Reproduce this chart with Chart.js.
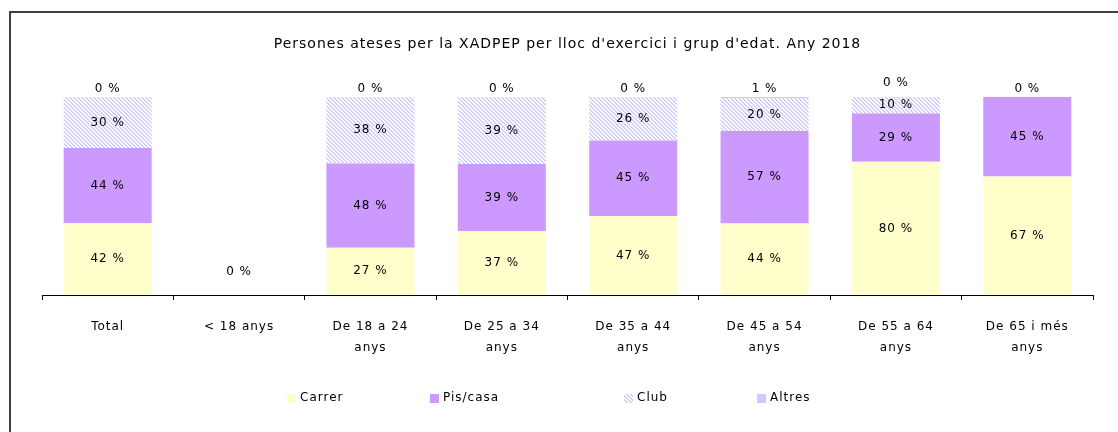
<!DOCTYPE html>
<html>
<head>
<meta charset="utf-8">
<script src="https://cdn.jsdelivr.net/npm/chart.js@4.4.1/dist/chart.umd.min.js"></script>
<style>
html,body{margin:0;padding:0;background:#fff;}
#wrap{position:relative;width:1118px;height:432px;}
</style>
</head>
<body>
<div id="wrap"><canvas id="c" width="1118" height="432"></canvas></div>
<script>
const categories = [["Total"], ["< 18 anys"], ["De 18 a 24", "anys"], ["De 25 a 34", "anys"], ["De 35 a 44", "anys"], ["De 45 a 54", "anys"], ["De 55 a 64", "anys"], ["De 65 i més", "anys"]];
const carrer  = [42, 0, 27, 37, 47, 44, 80, 67];
const pisCasa = [44, 0, 48, 39, 45, 57, 29, 45];
const club    = [30, 0, 38, 39, 26, 20, 10, 0];
const altres  = [0, 0, 0, 0, 0, 1, 0, 0];
const seriesNames = ["Carrer", "Pis/casa", "Club", "Altres"];
const titleText = "Persones ateses per la XADPEP per lloc d'exercici i grup d'edat. Any 2018";

const raw = [carrer, pisCasa, club, altres];
const totals = categories.map((_, i) => raw.reduce((s, a) => s + a[i], 0));
const norm = raw.map(a => a.map((v, i) => totals[i] ? v / totals[i] * 100 : 0));

function hatch() {
  const p = document.createElement('canvas');
  p.width = 4; p.height = 4;
  const g = p.getContext('2d');
  g.fillStyle = '#ffffff'; g.fillRect(0, 0, 4, 4);
  g.fillStyle = '#d0d0fa';
  for (let i = 0; i < 4; i++) { g.fillRect(i, i, 1, 1); g.fillRect((i + 1) % 4, i, 1, 1); }
  return g.createPattern(p, 'repeat');
}
const clubPattern = hatch();
const colors = ['#ffffcc', '#cc99ff', clubPattern, '#ccccff'];

const FONT = '"DejaVu Sans", Verdana, sans-serif';

const spacingPlugin = {
  id: 'spacing',
  beforeUpdate(chart) { chart.ctx.letterSpacing = '1px'; },
  beforeLayout(chart) { chart.ctx.letterSpacing = '1px'; },
  beforeDraw(chart) { chart.ctx.letterSpacing = '1px'; }
};

const labelPlugin = {
  id: 'labels',
  afterDatasetsDraw(chart) {
    const ctx = chart.ctx;
    ctx.save();
    ctx.letterSpacing = '1px';
    ctx.font = '12px ' + FONT;
    ctx.fillStyle = '#000';
    ctx.textAlign = 'center';
    ctx.textBaseline = 'middle';
    const xs = chart.scales.x, ys = chart.scales.y;
    categories.forEach((_, i) => {
      if (!totals[i]) {
        ctx.fillText('0 %', xs.getPixelForValue(i), ys.getPixelForValue(0) - 23);
        return;
      }
      let clubY = null;
      for (let d = 0; d < 3; d++) {
        const v = raw[d][i];
        if (d === 2 && v === 0) continue;
        const el = chart.getDatasetMeta(d).data[i];
        const y = (el.y + el.base) / 2;
        if (d === 2) clubY = y;
        ctx.fillText(v + ' %', el.x, y);
      }
      const el = chart.getDatasetMeta(3).data[i];
      let y = Math.min(el.y, el.base) - 8;
      if (clubY !== null) y = Math.min(y, clubY - 22);
      ctx.fillText(raw[3][i] + ' %', el.x, y);
    });
    ctx.restore();
  }
};

const framePlugin = {
  id: 'frame',
  afterDraw(chart) {
    const ctx = chart.ctx;
    ctx.save();
    ctx.strokeStyle = '#404040';
    ctx.lineWidth = 2;
    ctx.beginPath();
    ctx.moveTo(10, 440);
    ctx.lineTo(10, 12);
    ctx.lineTo(1130, 12);
    ctx.stroke();
    // legend
    const lx = [287, 430, 624, 757];
    const ly = 398;
    ctx.letterSpacing = '1px';
    ctx.font = '12px ' + FONT;
    ctx.textBaseline = 'middle';
    ctx.textAlign = 'left';
    lx.forEach((x, k) => {
      ctx.fillStyle = colors[k];
      ctx.fillRect(x, ly - 4, 9, 9);
      ctx.fillStyle = '#000';
      ctx.fillText(seriesNames[k], x + 13, ly);
    });
    ctx.restore();
  }
};

new Chart(document.getElementById('c'), {
  type: 'bar',
  data: {
    labels: categories,
    datasets: seriesNames.map((n, k) => ({
      label: n,
      data: norm[k],
      backgroundColor: colors[k],
      borderWidth: 0,
      categoryPercentage: 1,
      barPercentage: 0.67
    }))
  },
  options: {
    responsive: false,
    animation: false,
    layout: { padding: { left: 42, right: 25, top: 0, bottom: 58 } },
    plugins: {
      legend: { display: false },
      tooltip: { enabled: false },
      title: {
        display: true,
        text: titleText,
        color: '#000',
        font: { family: FONT, size: 14, weight: 'normal' },
        padding: { top: 36, bottom: 44 }
      }
    },
    scales: {
      x: {
        stacked: true,
        offset: true,
        grid: { offset: true, drawOnChartArea: false, tickLength: 5, color: '#000', tickColor: '#000' },
        border: { display: true, color: '#000', width: 1 },
        ticks: { color: '#000', font: { family: FONT, size: 12, lineHeight: 1.75 }, maxRotation: 0, autoSkip: false, padding: 16 }
      },
      y: {
        stacked: true,
        display: false,
        min: 0,
        max: 100
      }
    }
  },
  plugins: [spacingPlugin, labelPlugin, framePlugin]
});
</script>
</body>
</html>
